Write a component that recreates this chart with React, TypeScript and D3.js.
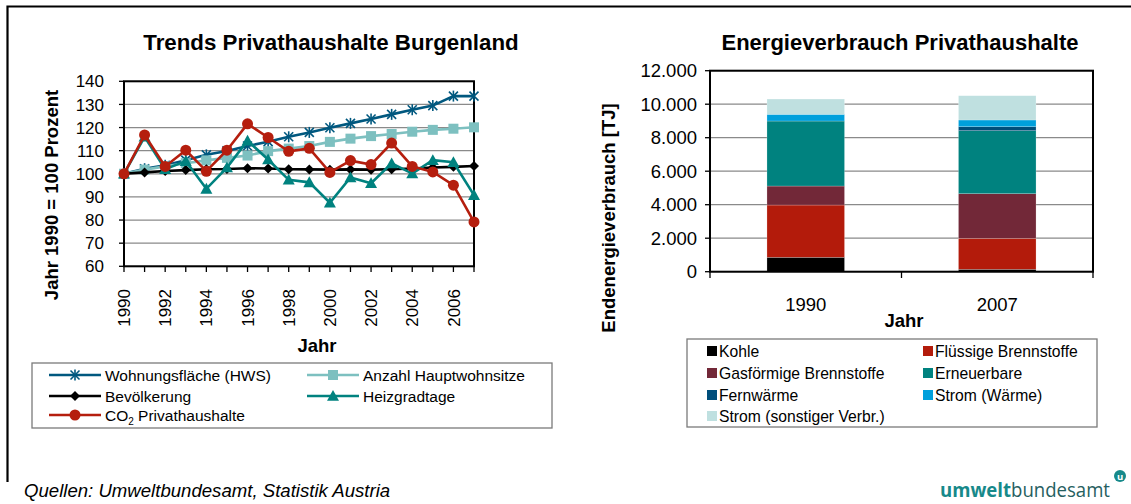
import React from "react";
import * as d3 from "d3";

const years = [1990, 1991, 1992, 1993, 1994, 1995, 1996, 1997, 1998, 1999, 2000, 2001, 2002, 2003, 2004, 2005, 2006, 2007];
const yearTicks = [1990, 1992, 1994, 1996, 1998, 2000, 2002, 2004, 2006];
const leftYTicks = [60, 70, 80, 90, 100, 110, 120, 130, 140];

const wohnungsflaeche = [100, 102.2, 103.7, 105.9, 108.2, 109.9, 112, 113.9, 116, 117.9, 119.9, 121.8, 123.7, 125.7, 127.7, 129.5, 133.6, 133.6];
const hauptwohnsitze = [100, 101.8, 103.2, 104.6, 105.8, 106.9, 107.9, 109.8, 110.9, 112, 113.8, 115.2, 116.3, 117.2, 118.2, 119, 119.5, 120.1];
const bevoelkerung = [100, 100.6, 101.2, 101.6, 102, 102.1, 102.4, 102.3, 102, 101.9, 101.8, 101.9, 101.8, 102, 102.3, 102.7, 103, 103.4];
const heizgradtage = [100, 116, 102, 105.5, 93.5, 102.7, 114.3, 106.2, 97.4, 96.3, 87.5, 98.4, 95.9, 104.5, 100.1, 105.9, 105, 90.8];
const co2 = [100, 116.8, 103.2, 110.2, 101.1, 110.2, 121.6, 115.7, 109.7, 111, 100.6, 105.7, 104, 113.3, 103.2, 100.8, 95.1, 79.2];

const lineSeries = [
  { name: "Wohnungsfläche (HWS)", values: wohnungsflaeche, color: "#00587F", marker: "star" },
  { name: "Anzahl Hauptwohnsitze", values: hauptwohnsitze, color: "#7DC0C0", marker: "square" },
  { name: "Bevölkerung", values: bevoelkerung, color: "#000000", marker: "diamond" },
  { name: "Heizgradtage", values: heizgradtage, color: "#00827F", marker: "triangle" },
  { name: "CO2 Privathaushalte", values: co2, color: "#B51E0E", marker: "circle" },
];

const barCategories = ["1990", "2007"];
const barKeys = ["Kohle", "Flüssige Brennstoffe", "Gasförmige Brennstoffe", "Erneuerbare", "Fernwärme", "Strom (Wärme)", "Strom (sonstiger Verbr.)"];
const kohle = [860, 143];
const fluessig = [3120, 1851];
const gasfoermig = [1134, 2663];
const erneuerbar = [3881, 3761];
const fernwaerme = [0, 239];
const stromWaerme = [400, 400];
const stromSonst = [913, 1450];
const barColors = ["#000000", "#B31B0B", "#722838", "#00827F", "#004E7A", "#00A0DC", "#BFE0E0"];
const rightYTicks = [0, 2000, 4000, 6000, 8000, 10000, 12000];

const FONT = "'Liberation Sans', Arial, sans-serif";

function Marker({ type, x, y, color }: { type: string; x: number; y: number; color: string }) {
  if (type === "star") {
    const s = 4.5;
    return (
      <g stroke={color} strokeWidth={1.6}>
        <line x1={x - s} y1={y - s} x2={x + s} y2={y + s} />
        <line x1={x - s} y1={y + s} x2={x + s} y2={y - s} />
        <line x1={x} y1={y - s - 1} x2={x} y2={y + s + 1} />
      </g>
    );
  }
  if (type === "square") {
    return <rect x={x - 5} y={y - 5} width={10} height={10} fill={color} />;
  }
  if (type === "diamond") {
    const s = 5;
    return <path d={`M${x},${y - s}L${x + s},${y}L${x},${y + s}L${x - s},${y}Z`} fill={color} />;
  }
  if (type === "triangle") {
    const s = 6;
    return <path d={`M${x},${y - s}L${x + s},${y + s * 0.8}L${x - s},${y + s * 0.8}Z`} fill={color} />;
  }
  return <circle cx={x} cy={y} r={5.5} fill={color} />;
}

function LeftChart() {
  const x = d3.scaleLinear().domain([1990, 2007]).range([124, 474]);
  const y = d3.scaleLinear().domain([60, 140]).range([266.3, 81.3]);
  const line = (vals: number[]) =>
    d3.line<number>().x((_, i) => x(years[i])).y((d) => y(d))(vals) || "";
  const legendRows = [
    [0, 1],
    [2, 3],
    [4],
  ];
  const legendYs = [375, 396, 415];
  const legendXs = [49, 307];
  return (
    <g fontFamily={FONT}>
      <text x={331} y={50} textAnchor="middle" fontSize={22.3} fontWeight="bold">
        Trends Privathaushalte Burgenland
      </text>
      {leftYTicks.map((t) => (
        <g key={t}>
          <line x1={124} x2={474} y1={y(t)} y2={y(t)} stroke="#8a8a8a" strokeWidth={1.3} />
          <line x1={119} x2={124} y1={y(t)} y2={y(t)} stroke="#000" strokeWidth={1.3} />
          <text x={104} y={y(t)} dy="0.36em" textAnchor="end" fontSize={17}>
            {t}
          </text>
        </g>
      ))}
      <rect x={124} y={81.3} width={350} height={185} fill="none" stroke="#000" strokeWidth={2} />
      {years.map((yr) => (
        <line key={yr} x1={x(yr)} x2={x(yr)} y1={266.3} y2={272} stroke="#000" strokeWidth={1.3} />
      ))}
      {yearTicks.map((yr) => (
        <text
          key={yr}
          transform={`translate(${x(yr)},289) rotate(-90)`}
          dy="0.36em"
          textAnchor="end"
          fontSize={17}
        >
          {yr}
        </text>
      ))}
      <text x={317} y={352} textAnchor="middle" fontSize={18.5} fontWeight="bold">
        Jahr
      </text>
      <text transform="translate(58,195) rotate(-90)" textAnchor="middle" fontSize={18.5} fontWeight="bold">
        Jahr 1990 = 100 Prozent
      </text>
      {lineSeries.map((s) => (
        <g key={s.name}>
          <path d={line(s.values)} fill="none" stroke={s.color} strokeWidth={2.6} />
          {s.values.map((v, i) => (
            <Marker key={i} type={s.marker} x={x(years[i])} y={y(v)} color={s.color} />
          ))}
        </g>
      ))}
      <rect x={32} y={363} width={520} height={65} fill="#fff" stroke="#7a7a7a" strokeWidth={1.3} />
      {legendRows.map((row, ri) =>
        row.map((si, ci) => {
          const s = lineSeries[si];
          const lx = legendXs[ci];
          const ly = legendYs[ri];
          return (
            <g key={s.name}>
              <line x1={lx} x2={lx + 52} y1={ly} y2={ly} stroke={s.color} strokeWidth={2.6} />
              <Marker type={s.marker} x={lx + 26} y={ly} color={s.color} />
              <text x={lx + 56} y={ly} dy="0.36em" fontSize={15.5}>
                {si === 4 ? (
                  <>
                    CO<tspan fontSize={10} dy="4">2</tspan>
                    <tspan dy="-4"> Privathaushalte</tspan>
                  </>
                ) : (
                  s.name
                )}
              </text>
            </g>
          );
        })
      )}
    </g>
  );
}

function RightChart() {
  const x = d3.scaleBand().domain(barCategories).range([710, 1093]).paddingInner(0.595).paddingOuter(0.2975);
  const y = d3.scaleLinear().domain([0, 12000]).range([271.7, 70.7]);
  const locale = d3.formatLocale({ decimal: ",", thousands: ".", grouping: [3], currency: ["", "€"] });
  const fmt = locale.format(",d");
  const table = barCategories.map((c, i) => ({
    cat: c,
    [barKeys[0]]: kohle[i],
    [barKeys[1]]: fluessig[i],
    [barKeys[2]]: gasfoermig[i],
    [barKeys[3]]: erneuerbar[i],
    [barKeys[4]]: fernwaerme[i],
    [barKeys[5]]: stromWaerme[i],
    [barKeys[6]]: stromSonst[i],
  }));
  const stacked = d3.stack<any>().keys(barKeys)(table);
  const legendRows = [
    [0, 1],
    [2, 3],
    [4, 5],
    [6],
  ];
  const legendYs = [351, 373, 395, 416];
  const legendXs = [707, 923];
  return (
    <g fontFamily={FONT}>
      <text x={900} y={50} textAnchor="middle" fontSize={22} fontWeight="bold">
        Energieverbrauch Privathaushalte
      </text>
      {rightYTicks.map((t) => (
        <g key={t}>
          <line x1={710} x2={1093} y1={y(t)} y2={y(t)} stroke="#8a8a8a" strokeWidth={1.3} />
          <line x1={705} x2={710} y1={y(t)} y2={y(t)} stroke="#000" strokeWidth={1.3} />
          <text x={697} y={y(t)} dy="0.36em" textAnchor="end" fontSize={18.5}>
            {fmt(t)}
          </text>
        </g>
      ))}
      {stacked.map((layer, li) => (
        <g key={layer.key} fill={barColors[li]}>
          {layer.map((d, i) =>
            d[1] - d[0] > 0 ? (
              <rect
                key={i}
                x={x(barCategories[i])}
                width={x.bandwidth()}
                y={y(d[1])}
                height={y(d[0]) - y(d[1])}
                stroke="#ffffff"
                strokeOpacity={0.35}
                strokeWidth={0.6}
              />
            ) : null
          )}
        </g>
      ))}
      <rect x={710} y={70.7} width={383} height={201} fill="none" stroke="#000" strokeWidth={2} />
      {[710, 901.5, 1093].map((tx) => (
        <line key={tx} x1={tx} x2={tx} y1={271.7} y2={278} stroke="#000" strokeWidth={1.3} />
      ))}
      {barCategories.map((c) => (
        <text key={c} x={(x(c) || 0) + x.bandwidth() / 2} y={311} textAnchor="middle" fontSize={18.5}>
          {c}
        </text>
      ))}
      <text x={904} y={327} textAnchor="middle" fontSize={18.5} fontWeight="bold">
        Jahr
      </text>
      <text transform="translate(615,218) rotate(-90)" textAnchor="middle" fontSize={18.5} fontWeight="bold">
        Endenergieverbrauch [TJ]
      </text>
      <rect x={687} y={339} width={410} height={88} fill="#fff" stroke="#7a7a7a" strokeWidth={1.3} />
      {legendRows.map((row, ri) =>
        row.map((ki, ci) => (
          <g key={barKeys[ki]}>
            <rect x={legendXs[ci]} y={legendYs[ri] - 5} width={10} height={10} fill={barColors[ki]} />
            <text x={legendXs[ci] + 12} y={legendYs[ri]} dy="0.36em" fontSize={15.7}>
              {barKeys[ki]}
            </text>
          </g>
        ))
      )}
    </g>
  );
}

export default function App() {
  return (
    <svg
      width={1131}
      height={504}
      viewBox="0 0 1131 504"
      style={{ position: "absolute", left: 0, top: 0, background: "#fff" }}
    >
      <rect x={0} y={0} width={1131} height={504} fill="#fff" />
      <path d="M7.5,482 L7.5,6.5 L1131,6.5" fill="none" stroke="#000" strokeWidth={2.2} />
      <LeftChart />
      <RightChart />
      <text x={24} y={497} fontFamily={FONT} fontStyle="italic" fontSize={18.6}>
        Quellen: Umweltbundesamt, Statistik Austria
      </text>
      <g fontFamily="'Open Sans', 'Liberation Sans', sans-serif">
        <text x={940} y={497} fontSize={20} textLength={170} lengthAdjust="spacingAndGlyphs">
          <tspan fill="#17898A" fontWeight="bold">umwelt</tspan>
          <tspan fill="#26605F">bundesamt</tspan>
        </text>
        <circle cx={1120} cy={476} r={6} fill="#17898A" />
        <text x={1120} y={479.5} textAnchor="middle" fill="#fff" fontSize={9.5} fontWeight="bold">
          u
        </text>
      </g>
    </svg>
  );
}
